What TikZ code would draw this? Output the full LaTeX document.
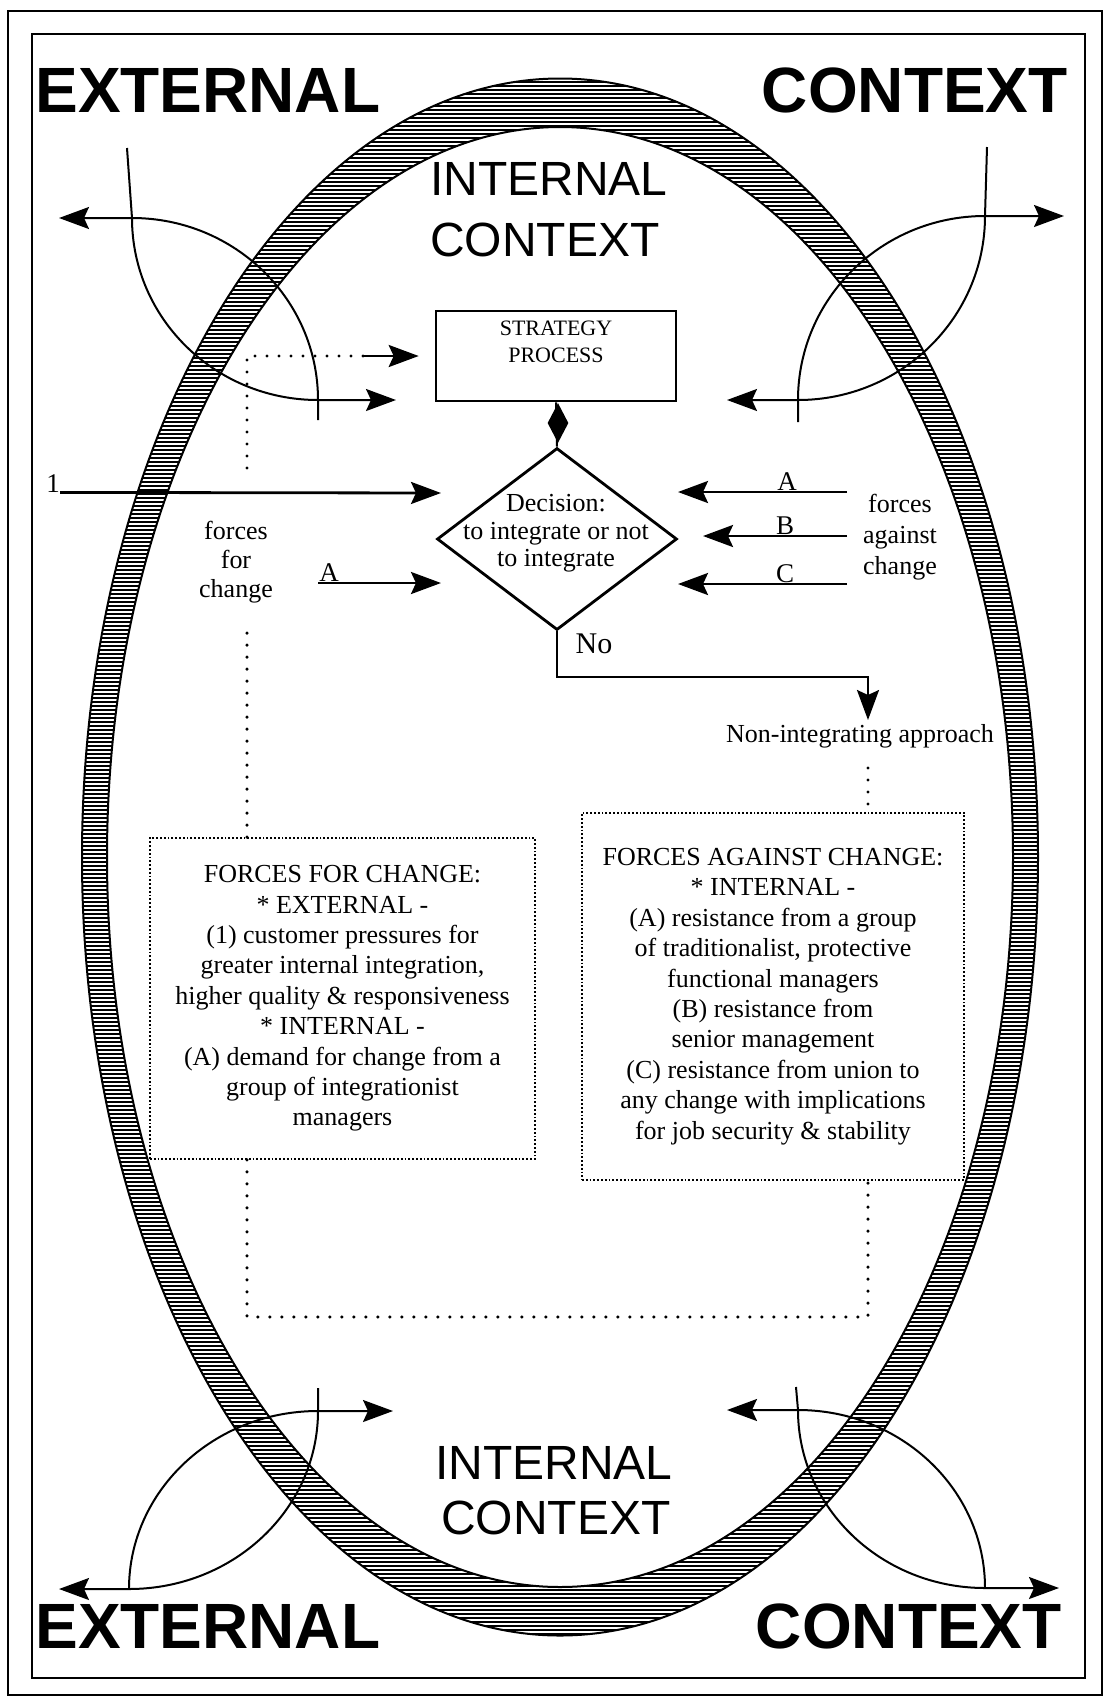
\documentclass[tikz,border=0pt]{standalone}
\usepackage{fontspec}
\setmainfont{Liberation Serif}
\newfontfamily\hvfont{Liberation Sans}
\usetikzlibrary{arrows.meta,shapes.geometric}

\begin{document}
\begin{tikzpicture}[x=0.5pt,y=-0.5pt,
  frame/.style={line width=1pt},
  tip/.style={-{Stealth[length=15pt,width=11pt,inset=2.5pt]}},
  force/.style={line width=1.4pt, tip},
  arcline/.style={line width=1pt},
  dots/.style={line width=1.7pt, line cap=round, dash pattern=on 0pt off 6pt},
  dotframe/.style={draw, line width=0.9pt, densely dotted},
  txt/.style={font=\fontsize{13}{15.2}\selectfont, inner sep=0pt},
  lbl/.style={font=\fontsize{13.5}{15}\selectfont, inner sep=0pt, anchor=base},
  bigword/.style={font=\hvfont\bfseries\fontsize{32}{36}\selectfont, inner sep=0pt},
  inword/.style={font=\hvfont\fontsize{24}{28}\selectfont, inner sep=0pt, anchor=base}
]
\useasboundingbox (0,0) rectangle (1108,1699);

% double frame
\draw[frame] (8,11) rectangle (1102,1695);
\draw[frame] (32,34) rectangle (1085,1678);

% hatched ring of the internal context
\begin{scope}[even odd rule]
  \clip (560,857) ellipse [x radius=478, y radius=778.5]
        (560,857) ellipse [x radius=453, y radius=730];
  \foreach \k in {0,...,392}
    \draw[line width=1.05pt] (70,{78+4*\k}) -- (1050,{78+4*\k});
\end{scope}
\draw[line width=1pt] (560,857) ellipse [x radius=478, y radius=778.5];
\draw[line width=1pt] (560,857) ellipse [x radius=453, y radius=730];

% corner words
\node[bigword, anchor=base west] (extT) at (35,112) {EXTERNAL};
\node[bigword, anchor=base east] (ctxT) at (1068,112) {CONTEXT};
\node[bigword, anchor=base west] (extB) at (35,1648) {EXTERNAL};
\node[bigword, anchor=base east] (ctxB) at (1062,1648) {CONTEXT};

\node[inword] (intT) at (549,195) {INTERNAL};
\node[inword] (icxT) at (545,256) {CONTEXT};
\node[inword] (intB) at (554,1479) {INTERNAL};
\node[inword] (icxB) at (556,1534) {CONTEXT};

% exchange arcs, top left
\coordinate (tlA) at (59,218);  \coordinate (tlO) at (132,218);
\coordinate (tlI) at (318,400); \coordinate (tlF) at (127,148);
\coordinate (tlE) at (318,420); \coordinate (tlB) at (396,400);
\draw[arcline, tip] (tlE) -- (tlI) .. controls (318,299.5) and (234.7,218) .. (tlO) -- (tlA);
\draw[arcline, tip] (tlF) -- (tlO) .. controls (132,318.5) and (215.3,400) .. (tlI) -- (tlB);

% exchange arcs, top right
\coordinate (trA) at (1064,216); \coordinate (trO) at (985,216);
\coordinate (trI) at (798,400);  \coordinate (trF) at (987,147);
\coordinate (trE) at (798,422);  \coordinate (trB) at (727,400);
\draw[arcline, tip] (trE) -- (trI) .. controls (798,298.4) and (881.8,216) .. (trO) -- (trA);
\draw[arcline, tip] (trF) -- (trO) .. controls (985,317.6) and (901.2,400) .. (trI) -- (trB);

% exchange arcs, bottom left
\coordinate (blA) at (59,1589);  \coordinate (blO) at (129,1589);
\coordinate (blI) at (318,1411); \coordinate (blE) at (318,1388);
\coordinate (blB) at (393,1411);
\draw[arcline, tip] (blE) -- (blI) .. controls (318,1509.3) and (233.3,1589) .. (blO) -- (blA);
\draw[arcline, tip] (blO) .. controls (129,1490.7) and (213.7,1411) .. (blI) -- (blB);

% exchange arcs, bottom right
\coordinate (brA) at (1059,1588); \coordinate (brO) at (985,1588);
\coordinate (brI) at (798,1410);  \coordinate (brF) at (796,1387);
\coordinate (brB) at (727,1410);
\draw[arcline, tip] (brO) .. controls (985,1489.7) and (901.2,1410) .. (brI) -- (brB);
\draw[arcline, tip] (brF) -- (brI) .. controls (798,1508.3) and (881.8,1588) .. (brO) -- (brA);

% strategy process and decision
\node[draw, line width=1.3pt, minimum width=120pt, minimum height=45pt, inner sep=0pt] (sp) at (556,356) {};
\node[font=\fontsize{11}{13.5}\selectfont, align=center, anchor=north, inner sep=0pt] (spt) at (556,321) {STRATEGY\\PROCESS};

\node[diamond, draw, line width=1.4pt, minimum width=120pt, minimum height=91pt, inner sep=0pt] (dec) at (557,539) {};
\node[font=\fontsize{13}{13.75}\selectfont, align=center, anchor=north, inner sep=0pt] (dect) at (556,494) {Decision:\\to integrate or not\\to integrate};

\draw[line width=1pt] (sp.south) -- (dec.north);
\node[diamond, fill=black, minimum width=10.5pt, minimum height=20pt, inner sep=0pt] (jn) at (558,423) {};

% forces for change
\node[font=\fontsize{13.5}{16}\selectfont, anchor=base, inner sep=0pt] (one) at (53,492) {1};
\coordinate (oneE) at (441,493);
\draw[force] (one.south east) -- (oneE);

\node[txt, align=center, anchor=north, font=\fontsize{13}{14.5}\selectfont] (ffc) at (236,521) {forces\\for\\change};

\node[lbl] (aL) at (329,581) {A};
\coordinate (aLs) at (318,583); \coordinate (aLe) at (441,583);
\draw[force] (aLs) -- (aLe);

% forces against change
\node[txt, align=center, anchor=north, font=\fontsize{13}{15.5}\selectfont] (fac) at (900,494) {forces\\against\\change};
\coordinate (raS) at (847,492); \coordinate (raE) at (678,492);
\coordinate (rbS) at (847,536); \coordinate (rbE) at (703,536);
\coordinate (rcS) at (847,584); \coordinate (rcE) at (678,584);
\draw[force] (raS) -- (raE);
\draw[force] (rbS) -- (rbE);
\draw[force] (rcS) -- (rcE);
\node[lbl] (aR) at (787,490) {A};
\node[lbl] (bR) at (785,534) {B};
\node[lbl] (cR) at (785,582) {C};

% the "No" branch
\node[font=\fontsize{15}{18}\selectfont, anchor=base, inner sep=0pt] (no) at (594,653) {No};
\node[txt, anchor=base] (nia) at (860,742) {Non-integrating approach};
\coordinate (noKnee) at (868,677); \coordinate (noTip) at (868,720);
\draw[line width=1.2pt, tip] (dec.south) |- (noKnee) -- (noTip);

% boxes of forces
\node[dotframe, txt, align=center, minimum width=192.5pt, minimum height=160.5pt] (lbox) at (342.5,998.5)
  {FORCES FOR CHANGE:\\* EXTERNAL -\\(1) customer pressures for\\greater internal integration,\\higher quality \& responsiveness\\* INTERNAL -\\(A) demand for change from a\\group of integrationist\\managers};
\node[dotframe, txt, align=center, minimum width=191pt, minimum height=183.5pt] (rbox) at (773,996.5)
  {FORCES AGAINST CHANGE:\\* INTERNAL -\\(A) resistance from a group\\of traditionalist, protective\\functional managers\\(B) resistance from\\senior management\\(C) resistance from union to\\any change with implications\\for job security \& stability};

% dotted feedback loop
\coordinate (dotL) at (247,623);
\coordinate (dotL2) at (247,468);
\coordinate (dotH) at (363,356);
\coordinate (dotR) at (868,768);
\coordinate (dotB) at (868,1317);
\draw[dots] (lbox.north -| dotL) -- (dotL);
\draw[dots] (dotL2) |- (dotH);
\draw[line width=1.4pt, tip, shorten >=8pt] (dotH) -- (sp.west);
\draw[dots] (lbox.south -| dotL) |- (dotB) -- (rbox.south -| dotB);
\draw[dots] (dotR) -- (rbox.north -| dotR);
\end{tikzpicture}
\end{document}
